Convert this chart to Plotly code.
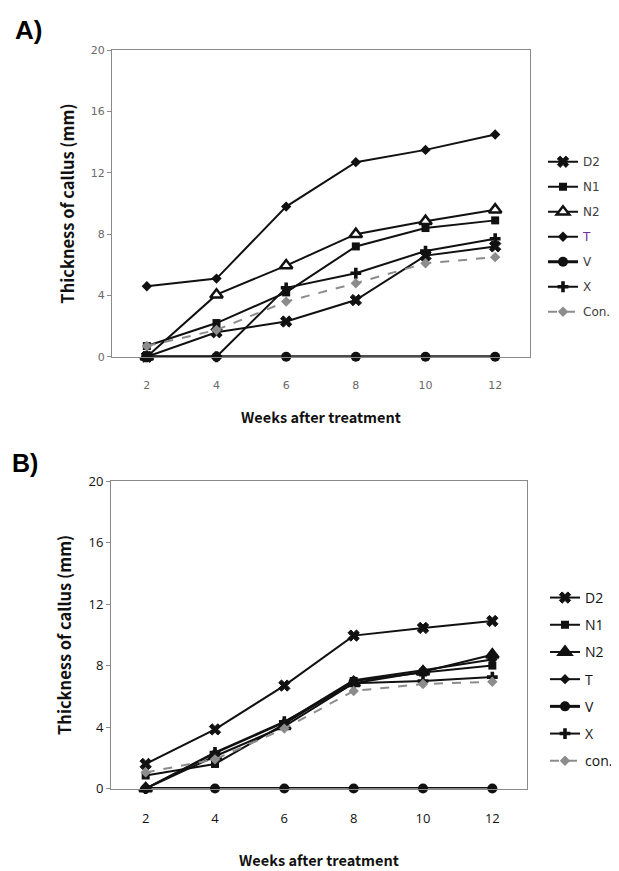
import plotly.graph_objects as go

weeks = [2, 4, 6, 8, 10, 12]

# Panel A
a_names = ["D2", "N1", "N2", "T", "V", "X", "Con."]
a_D2 = [0, 1.6, 2.3, 3.7, 6.6, 7.2]
a_N1 = [0.7, 2.2, 4.2, 7.2, 8.4, 8.9]
a_N2 = [0, 4.05, 5.95, 8.0, 8.85, 9.6]
a_T = [4.6, 5.1, 9.8, 12.7, 13.5, 14.5]
a_V = [0, 0, 0, 0, 0, 0]
a_X = [0, 0, 4.5, 5.45, 6.9, 7.7]
a_Con = [0.7, 1.75, 3.6, 4.8, 6.1, 6.5]

# Panel B
b_names = ["D2", "N1", "N2", "T", "V", "X", "con."]
b_D2 = [1.6, 3.85, 6.7, 9.95, 10.45, 10.9]
b_N1 = [0.85, 1.6, 4.2, 7.0, 7.55, 8.0]
b_N2 = [0, 2.1, 4.05, 6.85, 7.6, 8.7]
b_T = [0, 2.3, 4.3, 7.05, 7.7, 8.4]
b_V = [0, 0, 0, 0, 0, 0]
b_X = [0, 2.35, 4.35, 6.85, 7.0, 7.25]
b_Con = [1.05, 1.9, 3.9, 6.35, 6.8, 6.95]

y_ticks = [0, 4, 8, 12, 16, 20]

BLACK = "#111111"
GRAY = "#8c8c8c"

def styles(panel):
    tri_fill = "white" if panel == "A" else BLACK
    return [
        dict(symbol="x", size=10, color=BLACK, line=dict(width=1, color=BLACK)),
        dict(symbol="square", size=8, color=BLACK),
        dict(symbol="triangle-up", size=11, color=tri_fill, line=dict(width=2.5, color=BLACK)),
        dict(symbol="diamond", size=8, color=BLACK),
        dict(symbol="circle", size=10, color=BLACK),
        dict(symbol="cross", size=9, color=BLACK),
        dict(symbol="diamond", size=8, color=GRAY),
    ]

fig = go.Figure()

def add_panel(names, series, xa, ya, legend, panel):
    sty = styles(panel)
    for i, (nm, vals) in enumerate(zip(names, series)):
        is_con = i == 6
        lw = 3 if nm == "V" else 2
        label = nm
        if panel == "A" and nm == "T":
            label = "<span style='color:#7030a0'>T</span>"
        fig.add_trace(go.Scatter(
            x=weeks, y=vals, name=label, mode="lines+markers",
            line=dict(color=GRAY if is_con else BLACK, width=lw,
                      dash="dash" if is_con else "solid"),
            marker=sty[i], xaxis=xa, yaxis=ya, legend=legend,
            legendgroup=panel + nm, cliponaxis=False,
        ))

add_panel(a_names, [a_D2, a_N1, a_N2, a_T, a_V, a_X, a_Con], "x", "y", "legend", "A")
add_panel(b_names, [b_D2, b_N1, b_N2, b_T, b_V, b_X, b_Con], "x2", "y2", "legend2", "B")

OFF = 8  # page body margin
W, H = 619 - OFF, 871 - OFF
def dx(px):
    return (px - OFF) / W
def dy(py):
    return 1 - (py - OFF) / H

axis_common = dict(showline=True, linecolor="#8a8a8a", linewidth=1, mirror=True,
                   showgrid=False, zeroline=False)

title_font = dict(family="Noto Sans CJK KR", size=14.5, color="#111111", weight="bold")
ytitle_font = dict(family="Noto Sans CJK KR", size=16.5, color="#111111", weight="bold")

fig.update_layout(
    width=W, height=H, margin=dict(l=0, r=0, t=0, b=0),
    paper_bgcolor="white", plot_bgcolor="white", showlegend=True,
    xaxis=dict(domain=[dx(112), dx(530)], range=[1, 13], tickvals=weeks, anchor="y",
               ticks="", ticklabelstandoff=18,
               tickfont=dict(family="DejaVu Sans", size=11, color="#6a6a6a"),
               title=dict(text="Weeks after treatment", font=title_font, standoff=21),
               **axis_common),
    yaxis=dict(domain=[dy(355), dy(42)], range=[0, 20], tickvals=y_ticks, anchor="x",
               ticks="outside", ticklen=4, tickcolor="#8a8a8a",
               tickfont=dict(family="DejaVu Sans", size=11, color="#6a6a6a"),
               title=dict(text="Thickness of callus (mm)", font=ytitle_font, standoff=12),
               **axis_common),
    xaxis2=dict(domain=[dx(111), dx(527)], range=[1, 13], tickvals=weeks, anchor="y2",
                ticks="", ticklabelstandoff=18,
                tickfont=dict(family="Open Sans", size=13, color="#111111"),
                title=dict(text="Weeks after treatment", font=title_font, standoff=29),
                **axis_common),
    yaxis2=dict(domain=[dy(796), dy(482)], range=[0, 20], tickvals=y_ticks, anchor="x2",
                ticks="outside", ticklen=4, tickcolor="#8a8a8a",
                tickfont=dict(family="Open Sans", size=13, color="#111111"),
                title=dict(text="Thickness of callus (mm)", font=ytitle_font, standoff=12),
                **axis_common),
    legend=dict(x=dx(543), y=dy(141), xanchor="left", yanchor="top",
                font=dict(family="DejaVu Sans", size=12, color="#404040"),
                tracegroupgap=6, itemwidth=30, bgcolor="rgba(0,0,0,0)"),
    legend2=dict(x=dx(545), y=dy(585), xanchor="left", yanchor="top",
                 font=dict(family="Open Sans", size=14, color="#111111"),
                 tracegroupgap=6, itemwidth=30, bgcolor="rgba(0,0,0,0)"),
)

fig.add_annotation(text="<b>A)</b>", x=dx(13), y=dy(4), xref="paper", yref="paper",
                   xanchor="left", yanchor="top", showarrow=False,
                   font=dict(family="Liberation Sans", size=26, color="black"))
fig.add_annotation(text="<b>B)</b>", x=dx(10), y=dy(447), xref="paper", yref="paper",
                   xanchor="left", yanchor="top", showarrow=False,
                   font=dict(family="Liberation Sans", size=25, color="black"))

fig.write_html("out.html")
